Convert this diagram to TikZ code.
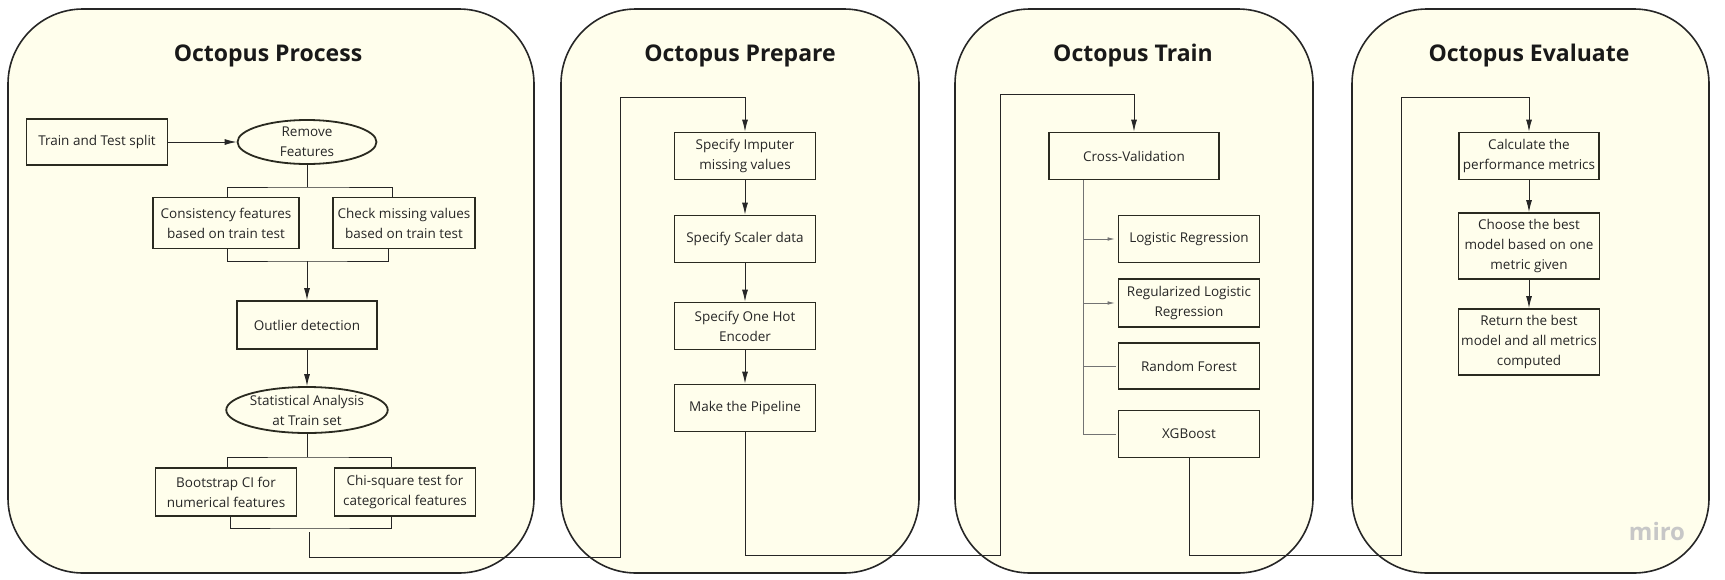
\documentclass[tikz,border=0pt]{standalone}
\usepackage{fontspec}
\setmainfont{Open Sans}
\usetikzlibrary{arrows.meta,shapes.geometric}
\definecolor{panelfill}{RGB}{255,254,236}
\definecolor{boxline}{RGB}{42,42,32}

\begin{document}
\begin{tikzpicture}[x=1pt, y=-1pt,
  panel/.style={draw=black!85, line width=1.6pt, fill=panelfill,
    rounded corners=75pt},
  title/.style={font=\fontsize{23}{28}\selectfont\bfseries, text=black!90,
    anchor=base},
  box/.style={draw=boxline, line width=1.8pt, fill=panelfill, align=center,
    inner sep=0pt, text=black!85, font=\fontsize{13.5}{20}\selectfont},
  oval/.style={box, ellipse},
  link/.style={draw=black!85, line width=0.9pt},
  arr/.style={link, -{Latex[length=12pt, width=6pt]}},
  twig/.style={draw=black!55, line width=0.6pt},
  twigarr/.style={twig, -{Latex[length=7pt, width=3.5pt]}}]

\useasboundingbox (0,0) rectangle (1725,579);

\draw[panel] (8,9) rectangle (534,573);
\draw[panel] (561,9) rectangle (919,573);
\draw[panel] (955,9) rectangle (1313,573);
\draw[panel] (1352,9) rectangle (1709,573);

\node[title] (tprocess) at (268,61) {Octopus Process};
\node[title] (tprepare) at (740,61) {Octopus Prepare};
\node[title] (ttrain) at (1133,61) {Octopus Train};
\node[title] (tevaluate) at (1529,61) {Octopus Evaluate};

\node[box, minimum width=141pt, minimum height=46pt] (split) at (97,142)
  {Train and Test split};
\node[oval, minimum width=139pt, minimum height=44pt] (remove) at (307,142)
  {Remove\\Features};
\node[box, minimum width=146pt, minimum height=51pt] (consist) at (226,223)
  {Consistency features\\based on train test};
\node[box, minimum width=142pt, minimum height=51pt] (check) at (404,223)
  {Check missing values\\based on train test};
\node[box, minimum width=140pt, minimum height=48pt] (outlier) at (307,325)
  {Outlier detection};
\node[oval, minimum width=161pt, minimum height=46pt] (stat) at (307,410)
  {Statistical Analysis\\at Train set};
\node[box, minimum width=141pt, minimum height=48pt] (boot) at (226,492)
  {Bootstrap CI for\\numerical features};
\node[box, minimum width=141pt, minimum height=48pt] (chi) at (405,492)
  {Chi-square test for\\categorical features};

\coordinate (rsplit) at (307,187);
\coordinate (rmerge) at (307,261);
\coordinate (ssplit) at (307,457);
\coordinate (smerge) at (309,528);
\coordinate (procout) at (309,532);

\draw[arr] (split) -- (remove);
\draw[link] (remove.south) -- (rsplit);
\draw[link] ([xshift=1pt]consist.north) |- (rsplit)
  -| ([xshift=-12pt]check.north);
\draw[link] ([xshift=1pt]consist.south) |- (rmerge)
  -| ([xshift=-16pt]check.south);
\draw[arr] (rmerge) -- (outlier.north);
\draw[arr] (outlier) -- (stat);
\draw[link] (stat.south) -- (ssplit);
\draw[link] ([xshift=1pt]boot.north) |- (ssplit)
  -| ([xshift=-14pt]chi.north);
\draw[link] ([xshift=4pt]boot.south) |- (smerge)
  -| ([xshift=-14pt]chi.south);

\node[box, minimum width=141pt, minimum height=47pt] (imputer) at (745,156)
  {Specify Imputer\\missing values};
\node[box, minimum width=141pt, minimum height=47pt] (scaler) at (745,239)
  {Specify Scaler data};
\node[box, minimum width=141pt, minimum height=47pt] (onehot) at (745,326)
  {Specify One Hot\\Encoder};
\node[box, minimum width=141pt, minimum height=47pt] (pipeline) at (745,408)
  {Make the Pipeline};

\draw[arr] (procout) |- (620,557) -- (620,97) -| (imputer.north);
\draw[arr] (imputer) -- (scaler);
\draw[arr] (scaler) -- (onehot);
\draw[arr] (onehot) -- (pipeline);

\node[box, minimum width=170pt, minimum height=47pt] (cv) at (1134,156)
  {Cross-Validation};
\node[box, minimum width=141pt, minimum height=47pt] (lr) at (1189,239)
  {Logistic Regression};
\node[box, minimum width=141pt, minimum height=48pt] (rlr) at (1189,303)
  {Regularized Logistic\\Regression};
\node[box, minimum width=141pt, minimum height=46pt] (rf) at (1189,366)
  {Random Forest};
\node[box, minimum width=141pt, minimum height=47pt] (xgb) at (1189,434)
  {XGBoost};

\coordinate (trunk) at (1083,434);

\draw[arr] (pipeline.south) |- (1000,555) -- (1000,94) -| (cv.north);
\draw[twig] (trunk |- cv.south) -- (trunk) -- ([xshift=-2pt]xgb.west);
\draw[twigarr] (trunk |- lr.west) -- ([xshift=-3pt]lr.west);
\draw[twigarr] (trunk |- rlr.west) -- ([xshift=-3pt]rlr.west);
\draw[twig] (trunk |- rf.west) -- ([xshift=-2pt]rf.west);

\node[box, minimum width=140pt, minimum height=47pt] (calc) at (1529,156)
  {Calculate the\\performance metrics};
\node[box, minimum width=141pt, minimum height=66pt] (choose) at (1529,246)
  {Choose the best\\model based on one\\metric given};
\node[box, minimum width=141pt, minimum height=66pt] (ret) at (1529,342)
  {Return the best\\model and all metrics\\computed};

\draw[arr] (xgb.south) |- (1401,555) -- (1401,97) -| (calc.north);
\draw[arr] (calc) -- (choose);
\draw[arr] (choose) -- (ret);

\node[font=\fontsize{24}{24}\selectfont\bfseries, text=black!22] (miro)
  at (1657,531) {miro};

\end{tikzpicture}
\end{document}
